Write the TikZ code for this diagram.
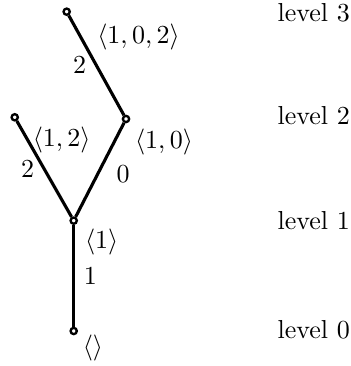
\documentclass[tikz,border=0pt]{standalone}
\usepackage{amsmath,amssymb}
\usepackage{tikz}
\usetikzlibrary{calc,positioning}
\tikzset{
  tnode/.style={circle, draw=black, fill=white, line width=0.9pt,
                minimum size=2.4pt, inner sep=0pt},
  tedge/.style={line width=1.2pt},
  tlab/.style={inner sep=0pt},
  elab/.style={inner sep=3.3pt},
  lvl/.style={anchor=west, inner sep=0pt}
}
\begin{document}
\begin{tikzpicture}
  \useasboundingbox (-0.996,-0.473) rectangle (3.734,4.473);
  % tree nodes
  \node[tnode] (r)   at (0,0) {};
  \node[tnode] (a)   at (0,1.491) {};
  \node[tnode] (ab)  at (-0.797,2.888) {};
  \node[tnode] (aa)  at (0.707,2.865) {};
  \node[tnode] (aab) at (-0.095,4.315) {};
  % edges
  \draw[tedge] (r) -- node[elab, right] (e1) {$1$} (a);
  \draw[tedge] (a) -- node[elab, left] (e2) {$2$} (ab);
  \draw[tedge] (a) -- node[elab, right, xshift=2.5pt, yshift=-1.5pt] (e0) {$0$} (aa);
  \draw[tedge] (aa) -- node[elab, left] (e3) {$2$} (aab);
  % sequences
  \node[tlab] (lr)   at (0.261,-0.230) {$\langle\rangle$};
  \node[tlab] (la)   at (0.378,1.207) {$\langle 1\rangle$};
  \node[tlab] (lab)  at (-0.162,2.581) {$\langle 1,2\rangle$};
  \node[tlab] (laa)  at (1.220,2.554) {$\langle 1,0\rangle$};
  \node[tlab] (laab) at (0.876,3.973) {$\langle 1,0,2\rangle$};
  % levels
  \node[lvl] (l0) at (2.748,0.02) {level 0};
  \node[lvl] (l1) at (2.748,1.491) {level 1};
  \node[lvl] (l2) at (2.748,2.91) {level 2};
  \node[lvl] (l3) at (2.748,4.30) {level 3};
\end{tikzpicture}
\end{document}
